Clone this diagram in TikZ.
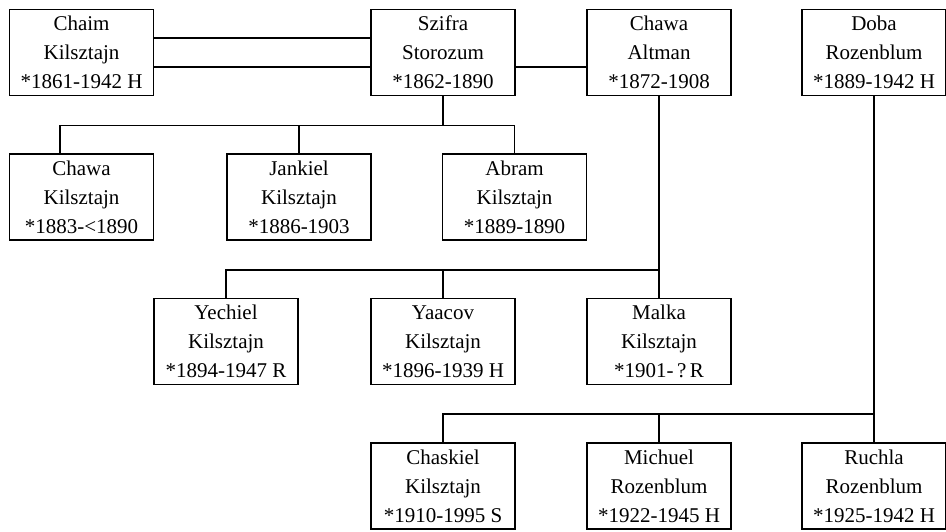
\documentclass[tikz,border=0pt]{standalone}
\usepackage{fontspec}
\setmainfont{Liberation Serif}
\begin{document}
\begin{tikzpicture}[x=1pt,y=-1pt,
  person/.style={draw, line width=1.6pt, minimum width=144pt, minimum height=86pt,
    inner sep=0pt, align=center, font=\fontsize{21}{29}\selectfont},
  link/.style={line width=1.6pt}]
\useasboundingbox (0,0) rectangle (946,532);

% generation 1
\node[person] (chaim)  at (81.5,52.5)  {Chaim\\Kilsztajn\\*1861-1942 H};
\node[person] (szifra) at (443,52.5)   {Szifra\\Storozum\\*1862-1890};
\node[person] (chawaA) at (659,52.5)   {Chawa\\Altman\\*1872-1908};
\node[person] (doba)   at (874,52.5)   {Doba\\Rozenblum\\*1889-1942 H};

% children of Chaim and Szifra
\node[person] (chawaK)  at (81.5,197)  {Chawa\\Kilsztajn\\*1883-<1890};
\node[person] (jankiel) at (299,197)   {Jankiel\\Kilsztajn\\*1886-1903};
\node[person] (abram)   at (514.5,197) {Abram\\Kilsztajn\\*1889-1890};

% children of Chaim and Chawa
\node[person] (yechiel) at (226,341.5) {Yechiel\\Kilsztajn\\*1894-1947 R};
\node[person] (yaacov)  at (443,341.5) {Yaacov\\Kilsztajn\\*1896-1939 H};
\node[person] (malka)   at (659,341.5) {Malka\\Kilsztajn\\*1901-\,?\,R};

% third marriage line
\node[person] (chaskiel) at (443,486)  {Chaskiel\\Kilsztajn\\*1910-1995 S};
\node[person] (michuel)  at (659,486)  {Michuel\\Rozenblum\\*1922-1945 H};
\node[person] (ruchla)   at (874,486)  {Ruchla\\Rozenblum\\*1925-1942 H};

% sibling bars
\coordinate (barA) at (0,125.5);
\coordinate (barB) at (0,270);
\coordinate (barC) at (0,414);

% marriage lines
\draw[link] ([yshift=14.5pt]chaim.east) -- ([yshift=14.5pt]szifra.west);
\draw[link] ([yshift=-14.5pt]chaim.east) -- ([yshift=-14.5pt]szifra.west);
\draw[link] ([yshift=-14.5pt]szifra.east) -- ([yshift=-14.5pt]chawaA.west);

% descent lines
\draw[link] (szifra.south) -- (szifra.south |- barA);
\draw[link] ([xshift=-21.5pt]chawaK.north) |- (abram.north |- barA) -- (abram.north);
\draw[link] (jankiel.north) -- (jankiel.north |- barA);

\draw[link] (chawaA.south) -- (malka.north);
\draw[link] (yechiel.north) |- (malka.north |- barB);
\draw[link] (yaacov.north) -- (yaacov.north |- barB);

\draw[link] (doba.south) -- (ruchla.north);
\draw[link] (chaskiel.north) |- (ruchla.north |- barC);
\draw[link] (michuel.north) -- (michuel.north |- barC);
\end{tikzpicture}
\end{document}
